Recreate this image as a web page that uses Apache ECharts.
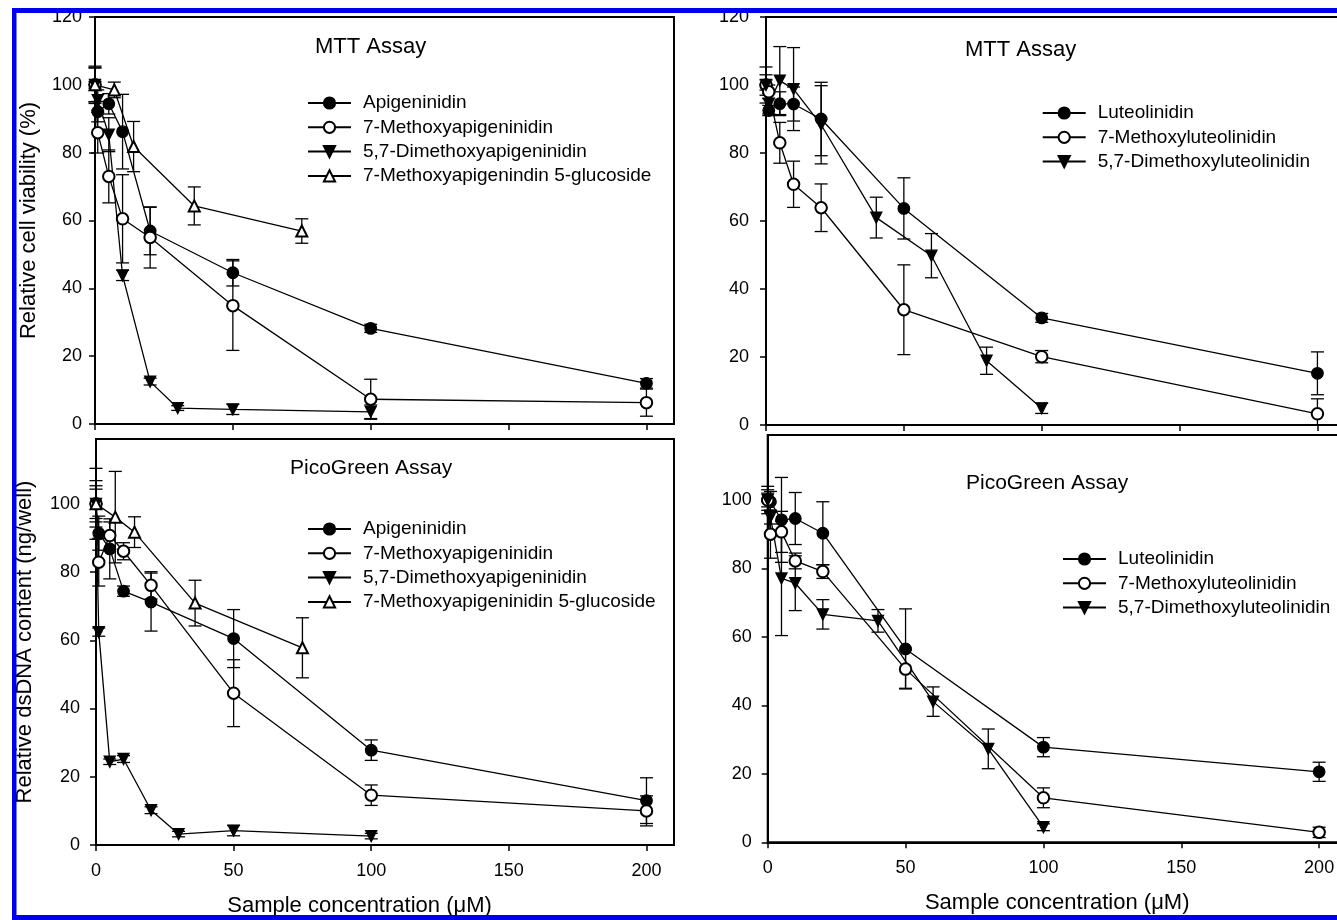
<!DOCTYPE html>
<html><head><meta charset="utf-8">
<script src="https://cdn.jsdelivr.net/npm/echarts@6/dist/echarts.min.js"></script>
<style>html,body{margin:0;padding:0;background:#fff}#c{width:1337px;height:920px}</style>
</head><body><div id="c"></div>
<script>
const FONT = '"Liberation Sans", Arial, Helvetica, sans-serif';

// ---- tick labels ----
const xTickValues = [0, 50, 100, 150, 200];
const yTickValuesTop = [0, 20, 40, 60, 80, 100, 120];
const yTickValuesBottom = [0, 20, 40, 60, 80, 100];

// ---- texts ----
const panelTitles = ['MTT Assay', 'MTT Assay', 'PicoGreen Assay', 'PicoGreen Assay'];
const yTitleTop = 'Relative cell viability (%)';
const yTitleBottom = 'Relative dsDNA content (ng/well)';
const xTitle = 'Sample concentration (\u03bcM)';

// ---- MTT, apigeninidin group (top left) ----
const mttApiNames = ['Apigeninidin', '7-Methoxyapigeninidin', '5,7-Dimethoxyapigeninidin', '7-Methoxyapigenindin 5-glucoside'];
const mttApiX = [0, 1, 5, 10, 20, 50, 100, 200];
const mttApiY = [100, 92.1, 94.4, 86.2, 56.9, 44.6, 28.2, 12.0];
const mttApiErr = [5.5, 3, 3, 11, 7, 3.9, 1.2, 1.4];
const mttMeoApiX = [0, 1, 5, 10, 20, 50, 100, 200];
const mttMeoApiY = [100, 85.9, 73, 60.5, 55, 34.9, 7.3, 6.3];
const mttMeoApiErr = [5, 6, 7.8, 13, 9, 13.2, 5.9, 4];
const mttDiApiX = [0, 1, 5, 10, 20, 30, 50, 100];
const mttDiApiY = [100, 95.5, 85.3, 43.8, 12.5, 4.7, 4.3, 3.6];
const mttDiApiErr = [5, 3, 5, 1.5, 1, 0.7, 1.5, 2];
const mttGluX = [0, 7, 14, 36, 75];
const mttGluY = [100, 98.5, 81.8, 64.3, 56.9];
const mttGluErr = [1, 2.3, 7.4, 5.6, 3.6];

// ---- MTT, luteolinidin group (top right) ----
const mttLutNames = ['Luteolinidin', '7-Methoxyluteolinidin', '5,7-Dimethoxyluteolinidin'];
const mttLutX = [0, 1, 5, 10, 20, 50, 100, 200];
const mttLutY = [100, 92.5, 94.5, 94.4, 90, 63.7, 31.5, 15.2];
const mttLutErr = [5.3, 1.5, 3.5, 5, 10.8, 9, 1.3, 6.3];
const mttMeoLutX = [0, 1, 5, 10, 20, 50, 100, 200];
const mttMeoLutY = [100, 98, 83, 70.8, 63.9, 33.9, 20.1, 3.3];
const mttMeoLutErr = [1.5, 2, 6, 6.8, 7, 13.2, 1.8, 4.4];
const mttDiLutX = [0, 1, 5, 10, 20, 40, 60, 80, 100];
const mttDiLutY = [100, 94.5, 101.3, 98.8, 88.3, 61, 49.8, 18.9, 4.9];
const mttDiLutErr = [3, 3, 10, 12.2, 11.5, 6, 6.5, 4, 1.5];

// ---- PicoGreen, apigeninidin group (bottom left) ----
const picoApiNames = ['Apigeninidin', '7-Methoxyapigeninidin', '5,7-Dimethoxyapigeninidin', '7-Methoxyapigeninidin 5-glucoside'];
const picoApiX = [0, 1, 5, 10, 20, 50, 100, 200];
const picoApiY = [100, 91.4, 86.8, 74.4, 71.2, 60.5, 27.8, 13];
const picoApiErr = [4.3, 5, 8.8, 1.5, 8.5, 8.5, 3, 6.7];
const picoMeoApiX = [0, 1, 5, 10, 20, 50, 100, 200];
const picoMeoApiY = [100, 82.9, 90.7, 86.1, 76.1, 44.5, 14.6, 10];
const picoMeoApiErr = [6.8, 7, 4, 2.5, 4, 9.8, 3, 4.4];
const picoDiApiX = [0, 1, 5, 10, 20, 30, 50, 100];
const picoDiApiY = [100, 62.4, 24.4, 25.2, 10.2, 3.2, 4.2, 2.6];
const picoDiApiErr = [10.4, 1.2, 0.8, 1, 1, 0.8, 1.5, 0.8];
const picoGluX = [0, 7, 14, 36, 75];
const picoGluY = [100, 96.1, 91.7, 70.9, 57.8];
const picoGluErr = [5.3, 13.4, 4.5, 6.7, 8.8];

// ---- PicoGreen, luteolinidin group (bottom right) ----
const picoLutNames = ['Luteolinidin', '7-Methoxyluteolinidin', '5,7-Dimethoxyluteolinidin'];
const picoLutX = [0, 1, 5, 10, 20, 50, 100, 200];
const picoLutY = [100, 99.5, 94.2, 94.6, 90.3, 56.5, 27.8, 20.6];
const picoLutErr = [4, 3, 12.4, 7.6, 9.2, 11.7, 2.8, 2.8];
const picoMeoLutX = [0, 1, 5, 10, 20, 50, 100, 200];
const picoMeoLutY = [100, 90, 90.7, 82.2, 79.1, 50.6, 13, 2.9];
const picoMeoLutErr = [2, 7, 6, 2.3, 2, 5.6, 2.9, 1.5];
const picoDiLutX = [0, 1, 5, 10, 20, 40, 60, 80, 100];
const picoDiLutY = [100, 95, 77.1, 75.7, 66.6, 64.7, 41.1, 27.3, 4.4];
const picoDiLutErr = [3, 2, 16.7, 8, 4.3, 3.3, 4.3, 5.8, 1];

// ---------------- build ----------------
const MARKERS = [
  {symbol: 'circle', rotate: 0, size: 11.5},
  {symbol: 'emptyCircle', rotate: 0, size: 11.5},
  {symbol: 'triangle', rotate: 180, size: 11},
  {symbol: 'emptyTriangle', rotate: 0, size: 11}
];

const panels = [
  {names: mttApiNames, sets: [[mttApiX, mttApiY, mttApiErr], [mttMeoApiX, mttMeoApiY, mttMeoApiErr], [mttDiApiX, mttDiApiY, mttDiApiErr], [mttGluX, mttGluY, mttGluErr]]},
  {names: mttLutNames, sets: [[mttLutX, mttLutY, mttLutErr], [mttMeoLutX, mttMeoLutY, mttMeoLutErr], [mttDiLutX, mttDiLutY, mttDiLutErr]]},
  {names: picoApiNames, sets: [[picoApiX, picoApiY, picoApiErr], [picoMeoApiX, picoMeoApiY, picoMeoApiErr], [picoDiApiX, picoDiApiY, picoDiApiErr], [picoGluX, picoGluY, picoGluErr]]},
  {names: picoLutNames, sets: [[picoLutX, picoLutY, picoLutErr], [picoMeoLutX, picoMeoLutY, picoMeoLutErr], [picoDiLutX, picoDiLutY, picoDiLutErr]]}
];

const grids = [
  {left: 95, top: 17, width: 579, height: 407},
  {left: 766, top: 17, width: 579, height: 408},
  {left: 96, top: 439, width: 578, height: 406},
  {left: 767.7, top: 435, width: 579, height: 407.3}
];
const yMax = [120, 120, 119, 119];
const yLabelMargin = [13, 17, 16, 16];
const yLineWidth = [2, 1, 2, 2];

function renderErr(params, api) {
  const x = api.value(0);
  const lo = api.value(1);
  const hi = api.value(2);
  const pLo = api.coord([x, Math.max(lo, 0)]);
  const pHi = api.coord([x, hi]);
  const hw = 6.5;
  const st = {stroke: '#000', lineWidth: 1.3, fill: null};
  const ch = [
    {type: 'line', shape: {x1: pLo[0], y1: pLo[1], x2: pHi[0], y2: pHi[1]}, style: st},
    {type: 'line', shape: {x1: pHi[0] - hw, y1: pHi[1], x2: pHi[0] + hw, y2: pHi[1]}, style: st}
  ];
  if (lo >= 0) ch.push({type: 'line', shape: {x1: pLo[0] - hw, y1: pLo[1], x2: pLo[0] + hw, y2: pLo[1]}, style: st});
  return {type: 'group', children: ch};
}

const series = [];
panels.forEach((p, gi) => {
  p.sets.forEach((s, si) => {
    const [xs, ys, es] = s;
    series.push({
      type: 'custom', name: 'err' + gi + '_' + si,
      xAxisIndex: gi, yAxisIndex: gi, z: 2,
      renderItem: renderErr,
      encode: {x: 0, y: [1, 2]},
      data: xs.map((x, i) => [x, ys[i] - es[i], ys[i] + es[i]]),
      silent: true
    });
    const m = MARKERS[si];
    series.push({
      type: 'line', name: p.names[si],
      xAxisIndex: gi, yAxisIndex: gi, z: 3,
      data: xs.map((x, i) => [x, ys[i]]),
      symbol: m.symbol, symbolRotate: m.rotate,
      symbolSize: m.size,
      showAllSymbol: true,
      lineStyle: {color: '#000', width: 1.3},
      itemStyle: {color: '#000', borderColor: '#000', borderWidth: 1.3},
      emphasis: {disabled: true},
      animation: false
    });
  });
});

const xAxes = grids.map((g, gi) => ({
  type: 'value', gridIndex: gi, min: 0, max: 210,
  axisLine: {show: true, onZero: false, lineStyle: {color: '#000', width: 2}},
  axisTick: {show: true, length: 6, lineStyle: {color: '#000', width: 1.5}, customValues: xTickValues},
  axisLabel: {show: gi >= 2, customValues: xTickValues, color: '#000', fontSize: 18, fontFamily: FONT, margin: 17},
  splitLine: {show: false},
  name: gi >= 2 ? xTitle : '',
  nameLocation: 'middle', nameGap: 50,
  nameTextStyle: {color: '#000', fontSize: 22, fontFamily: FONT, padding: gi === 2 ? [0, 51, 0, 0] : 0}
}));

const yAxes = grids.map((g, gi) => ({
  type: 'value', gridIndex: gi, min: 0, max: yMax[gi],
  axisLine: {show: true, onZero: false, lineStyle: {color: '#000', width: yLineWidth[gi]}},
  axisTick: {show: true, length: 6, lineStyle: {color: '#000', width: 1.5}, customValues: gi < 2 ? yTickValuesTop : yTickValuesBottom},
  axisLabel: {customValues: gi < 2 ? yTickValuesTop : yTickValuesBottom, color: '#000', fontSize: 18, fontFamily: FONT, margin: yLabelMargin[gi]},
  splitLine: {show: false},
  name: gi === 0 ? yTitleTop : (gi === 2 ? yTitleBottom : ''),
  nameLocation: 'middle', nameGap: gi === 0 ? 55 : 60,
  nameTextStyle: {color: '#000', fontSize: 22, fontFamily: FONT}
}));

const titlePos = [
  {left: 315, top: 36, size: 22},
  {left: 965, top: 38.5, size: 22},
  {left: 290, top: 458, size: 21},
  {left: 966, top: 472.5, size: 21}
];
const titles = titlePos.map((t, i) => ({
  text: panelTitles[i], left: t.left, top: t.top, padding: 0,
  textStyle: {color: '#000', fontSize: t.size, fontWeight: 'normal', fontFamily: FONT}
}));

const legendPos = [
  {left: 307, top: 93.5},
  {left: 1041.7, top: 103.5},
  {left: 307, top: 519.5},
  {left: 1062, top: 549.5}
];
const legends = legendPos.map((l, i) => ({
  data: panels[i].names, orient: 'vertical', left: l.left, top: l.top, padding: 0,
  itemWidth: 43, itemHeight: 14, itemGap: 5.3, selectedMode: false,
  textStyle: {color: '#000', fontSize: 19, fontFamily: FONT, padding: [0, 0, 0, 7]}
}));

const blue = '#0000f0';
const chart = echarts.init(document.getElementById('c'), null, {renderer: 'canvas'});
chart.setOption({
  backgroundColor: '#fff',
  animation: false,
  title: titles,
  legend: legends,
  grid: grids.map(g => Object.assign({show: true, borderColor: '#000', borderWidth: 2, containLabel: false, outerBoundsMode: 'none'}, g)),
  xAxis: xAxes,
  yAxis: yAxes,
  series: series,
  graphic: [
    {type: 'rect', z: 100, shape: {x: 12, y: 8, width: 1325, height: 5}, style: {fill: blue}},
    {type: 'rect', z: 100, shape: {x: 12, y: 8, width: 4.5, height: 912}, style: {fill: blue}},
    {type: 'rect', z: 100, shape: {x: 12, y: 915, width: 1325, height: 5}, style: {fill: blue}},
    {type: 'rect', z: 99, shape: {x: 0, y: 0, width: 12, height: 920}, style: {fill: '#fff'}},
    {type: 'rect', z: 99, shape: {x: 0, y: 0, width: 1337, height: 8}, style: {fill: '#fff'}}
  ]
});
</script></body></html>
